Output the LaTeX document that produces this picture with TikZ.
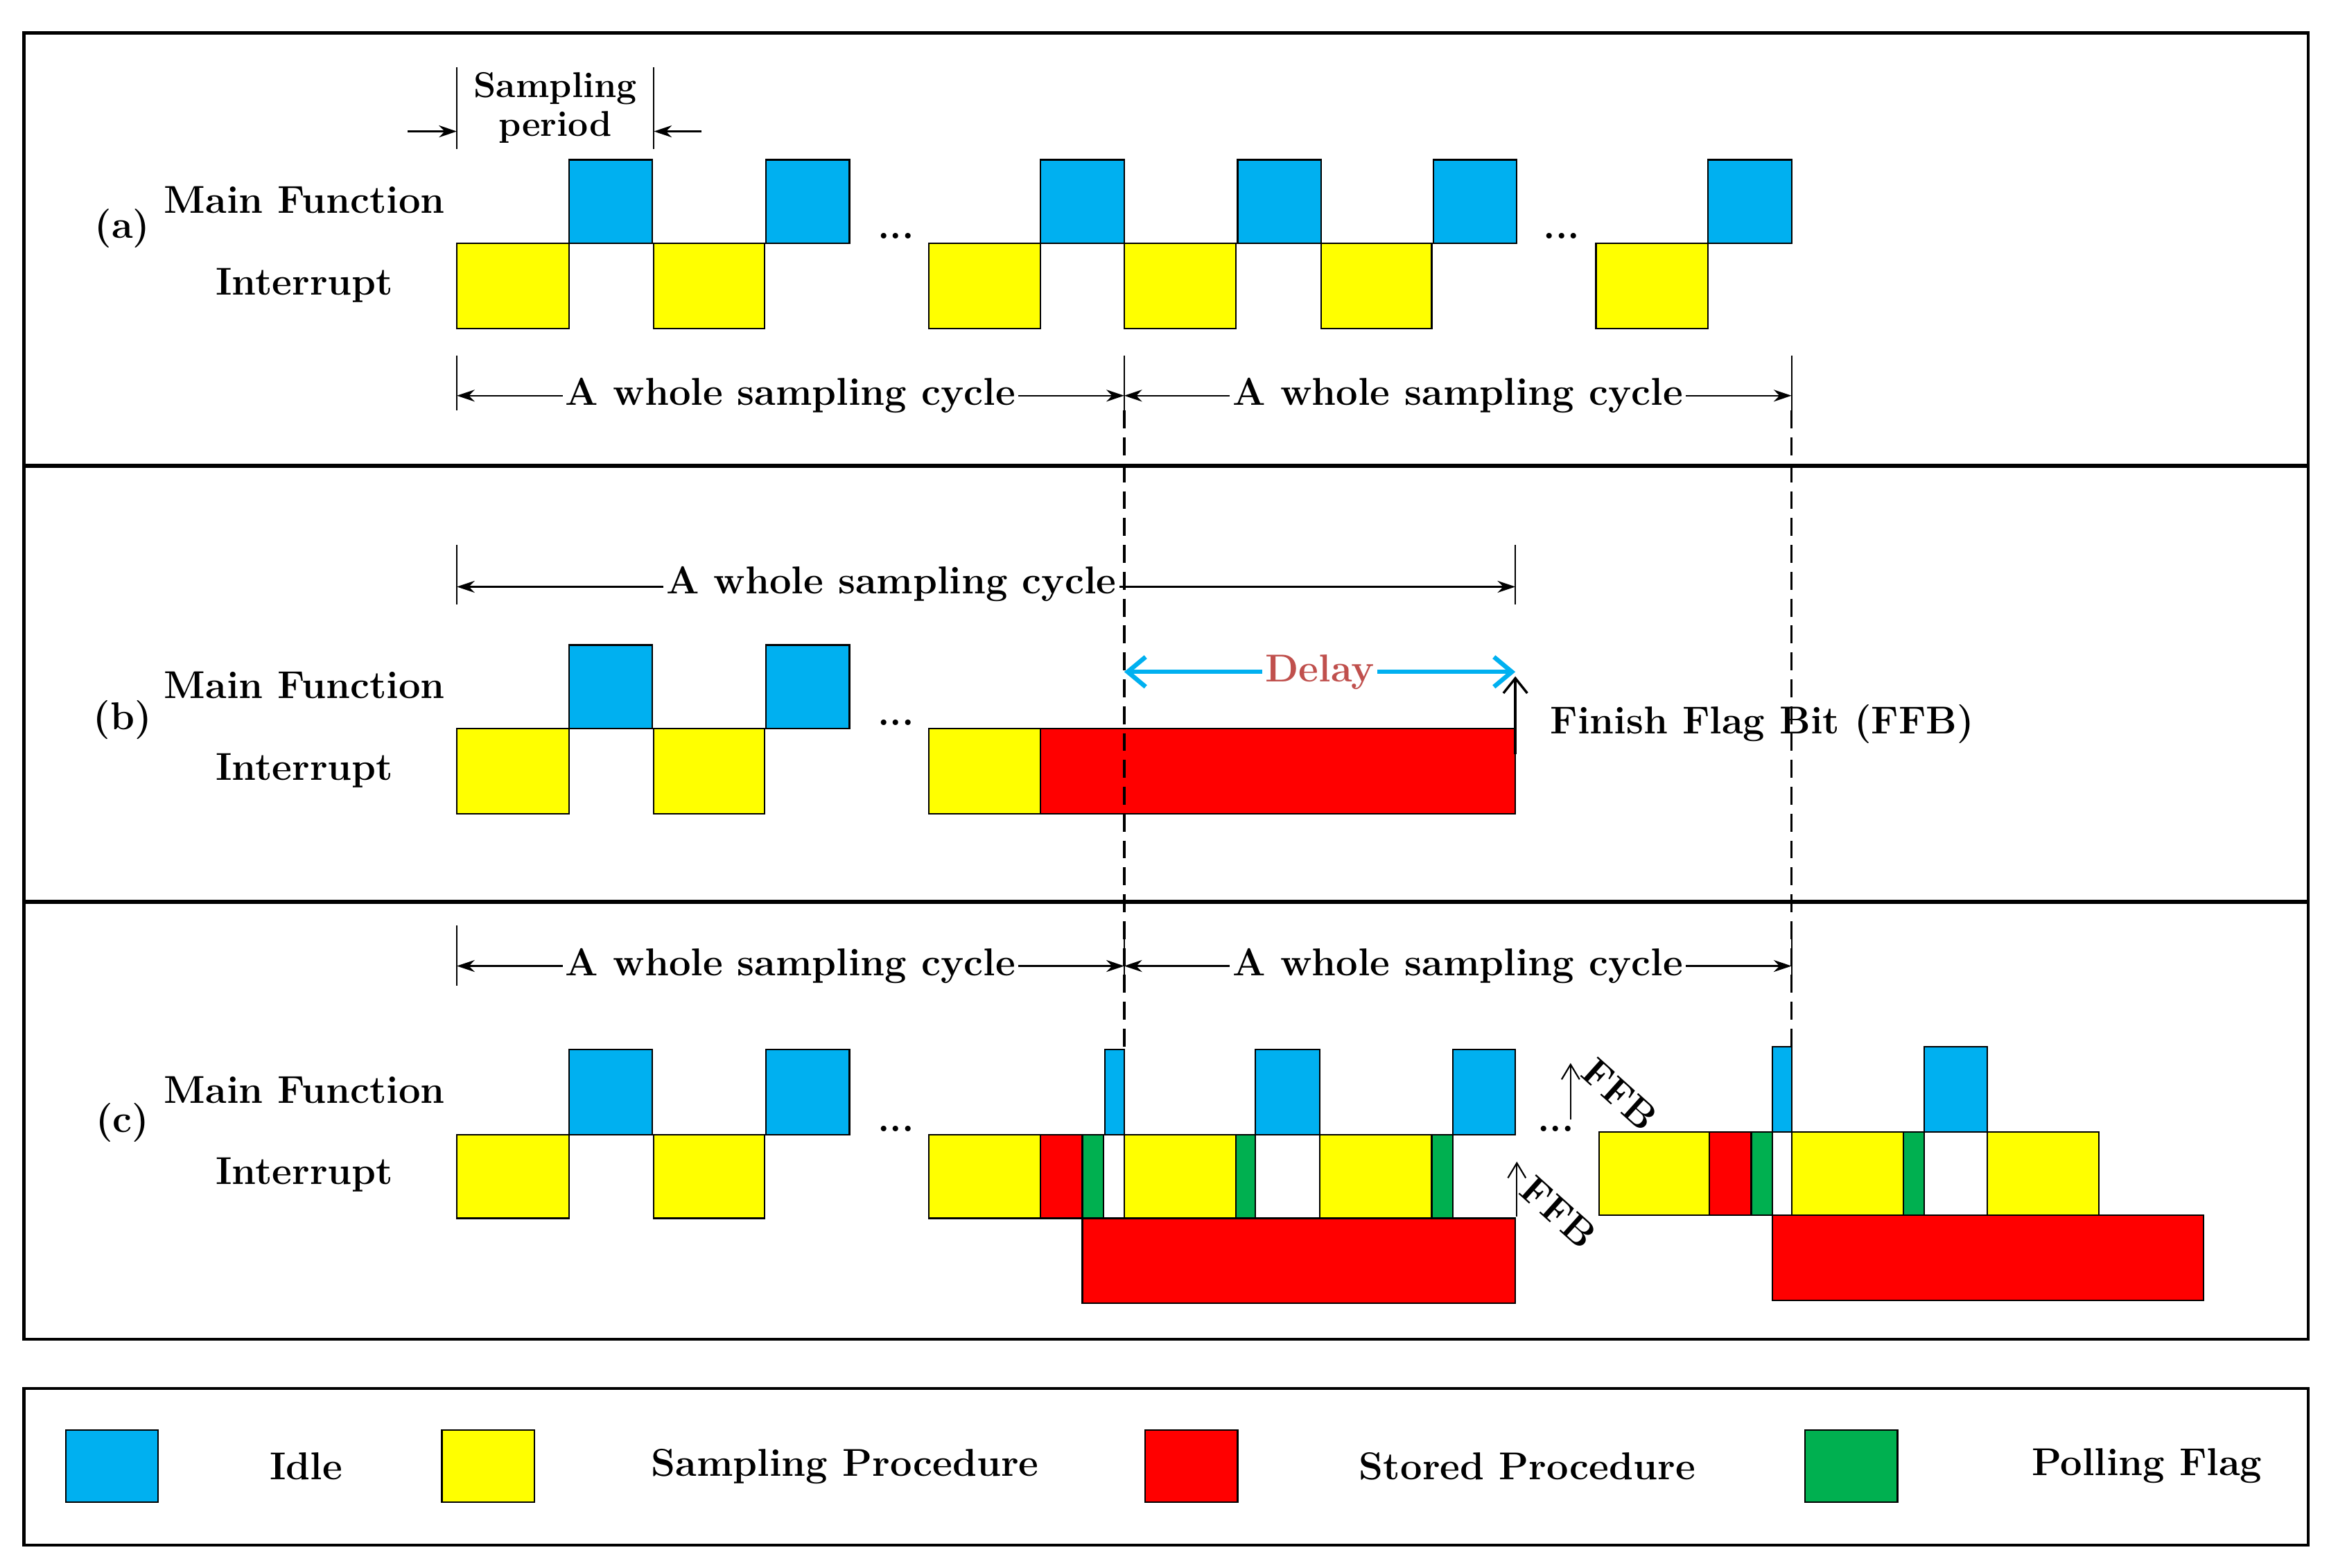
\documentclass[tikz,border=0pt]{standalone}
\usetikzlibrary{arrows.meta}
\begin{document}
\begin{tikzpicture}[x=0.5pt,y=-0.5pt,
  txt/.style={font=\fontsize{13}{15}\selectfont\bfseries,inner sep=1pt},
  bx/.style={draw=black,line width=0.5pt},
  bl/.style={bx,fill=cB},ye/.style={bx,fill=cY},re/.style={bx,fill=cR},gr/.style={bx,fill=cG},wh/.style={bx,fill=white},
  dim/.style={line width=0.5pt,{Stealth[length=6pt,width=4pt]}-{Stealth[length=6pt,width=4pt]}},
  tick/.style={line width=0.5pt},
  dsh/.style={line width=0.8pt,dash pattern=on 6pt off 3pt}]
\definecolor{cB}{HTML}{00B0F0}\definecolor{cY}{HTML}{FFFF00}\definecolor{cR}{HTML}{FF0000}\definecolor{cG}{HTML}{00B050}\definecolor{cD}{HTML}{C0504D}
\useasboundingbox (0,0) rectangle (1560,1050);
% frames
\draw[line width=1pt] (16,22) rectangle (1546,897);
\draw[line width=1.5pt] (16,312) -- (1546,312) (16,604) -- (1546,604);
\draw[line width=1pt] (16,930) rectangle (1546,1035);
% ---------- (a)
\node[txt] (la) at (82,153) {(a)};
\node[txt] (ma) at (204,134) {Main Function};
\node[txt] (ia) at (204,191) {Interrupt};
\foreach \a/\b in {306/381,438/512,622/697,753/828,885/959,1069/1144} \draw[ye] (\a,163) rectangle (\b,220);
\foreach \a/\b in {381/437,513/569,697/753,829/885,960/1016,1144/1200} \draw[bl] (\a,107) rectangle (\b,163);
\node[txt] (d1) at (600,158) {...};
\node[txt] (d2) at (1046,158) {...};
\node[txt,align=center,font=\fontsize{12}{13}\selectfont\bfseries] (sp) at (372,72) {Sampling\\period};
\draw[tick] (306,45) -- (306,100) (438,45) -- (438,100);
\coordinate (spl) at (273,88); \coordinate (spr) at (470,88);
\draw[line width=0.5pt,-{Stealth[length=6pt,width=4pt]}] (spl) -- (306,88);
\draw[line width=0.5pt,-{Stealth[length=6pt,width=4pt]}] (spr) -- (438,88);
\draw[tick] (306,238) -- (306,275) (753,238) -- (753,275) (1200,238) -- (1200,275);
\draw[dim] (306,265) -- node[txt,fill=white] (ca1) {A whole sampling cycle} (753,265);
\draw[dim] (753,265) -- node[txt,fill=white] (ca2) {A whole sampling cycle} (1200,265);
% ---------- (b)
\node[txt] (lb) at (82,482) {(b)};
\node[txt] (mb) at (204,459) {Main Function};
\node[txt] (ib) at (204,516) {Interrupt};
\foreach \a/\b in {306/381,438/512,622/697} \draw[ye] (\a,488) rectangle (\b,545);
\foreach \a/\b in {381/437,513/569} \draw[bl] (\a,432) rectangle (\b,488);
\draw[re] (697,488) rectangle (1015,545);
\node[txt] (d3) at (600,484) {...};
\draw[tick] (306,365) -- (306,405) (1015,365) -- (1015,405);
\draw[dim] (306,393) -- (1015,393);
\node[txt,fill=white] (cb) at (597,391) {A whole sampling cycle};
\draw[cB,line width=1.5pt,{Straight Barb[length=6pt,width=10pt]}-{Straight Barb[length=6pt,width=10pt]}] (753,450) -- node[txt,fill=white,text=cD] (dl) {Delay} (1015,450);
\coordinate (fb0) at (1015,505);
\draw[line width=0.8pt,-{Straight Barb[length=5pt,width=8pt]}] (fb0) -- (1015,453);
\node[txt,anchor=west] (ffb) at (1036,485) {Finish Flag Bit (FFB)};
% ---------- (c)
\node[txt] (lc) at (82,752) {(c)};
\node[txt] (mc) at (204,730) {Main Function};
\node[txt] (ic) at (204,787) {Interrupt};
\draw[tick] (306,620) -- (306,660) (753,620) -- (753,660) (1200,620) -- (1200,660);
\draw[dim] (306,647) -- node[txt,fill=white] (cc1) {A whole sampling cycle} (753,647);
\draw[dim] (753,647) -- node[txt,fill=white] (cc2) {A whole sampling cycle} (1200,647);
\draw[dsh] (753,275) -- (753,703);
\draw[dsh] (1200,275) -- (1200,701);
\foreach \a/\b in {306/381,438/512,622/697,753/828,884/959} \draw[ye] (\a,760) rectangle (\b,816);
\foreach \a/\b in {381/437,513/569,740/753,841/884,973/1015} \draw[bl] (\a,703) rectangle (\b,760);
\draw[re] (697,760) rectangle (725,816);
\foreach \a/\b in {725/739,828/841,959/973} \draw[gr] (\a,760) rectangle (\b,816);
\draw[wh] (739,760) rectangle (753,816);
\draw[wh] (841,760) rectangle (884,816);
\draw[re] (725,816) rectangle (1015,873);
\node[txt] (d4) at (600,756) {...};
\node[txt] (d5) at (1042,756) {...};
\foreach \a/\b in {1071/1145,1200/1275,1331/1406} \draw[ye] (\a,758) rectangle (\b,814);
\draw[re] (1145,758) rectangle (1173,814);
\foreach \a/\b in {1173/1187,1275/1289} \draw[gr] (\a,758) rectangle (\b,814);
\draw[wh] (1187,758) rectangle (1200,814);
\draw[wh] (1289,758) rectangle (1331,814);
\foreach \a/\b in {1187/1200,1289/1331} \draw[bl] (\a,701) rectangle (\b,758);
\draw[re] (1187,814) rectangle (1476,871);
\coordinate (f1) at (1052,750); \coordinate (f2) at (1016,815);
\draw[line width=0.5pt,-{Straight Barb[length=5pt,width=6pt]}] (f1) -- (1052,712);
\draw[line width=0.5pt,-{Straight Barb[length=5pt,width=6pt]}] (f2) -- (1016,778);
\node[txt,rotate=-42,inner sep=0pt] (t1) at (1085,733) {FFB};
\node[txt,rotate=-42,inner sep=0pt] (t2) at (1044,812) {FFB};
% ---------- legend
\draw[bl] (44,958) rectangle (106,1006);
\node[txt] (g1) at (205,982) {Idle};
\draw[ye] (296,958) rectangle (358,1006);
\node[txt] (g2) at (566,982) {Sampling Procedure};
\draw[re] (767,958) rectangle (829,1006);
\node[txt] (g3) at (1023,982) {Stored Procedure};
\draw[gr] (1209,958) rectangle (1271,1006);
\node[txt] (g4) at (1438,982) {Polling Flag};
\end{tikzpicture}
\end{document}
